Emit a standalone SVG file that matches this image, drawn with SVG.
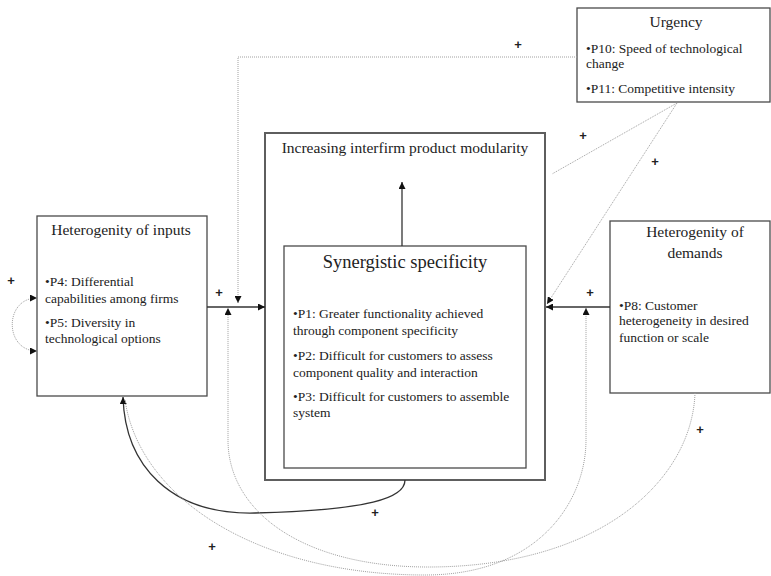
<svg xmlns="http://www.w3.org/2000/svg" width="771" height="576" viewBox="0 0 771 576">
  <defs>
    <style>
      .box { fill: #ffffff; stroke: #4a4a4a; stroke-width: 1.3; }
      .outer { fill: #ffffff; stroke: #5e5e5e; stroke-width: 2; }
      .title { font-family: "Liberation Serif", "Times New Roman", serif; font-size: 15.5px; fill: #222; text-anchor: middle; }
      .big { font-family: "Liberation Serif", "Times New Roman", serif; font-size: 18.5px; fill: #222; text-anchor: middle; }
      .body { font-family: "Liberation Serif", "Times New Roman", serif; font-size: 13.5px; fill: #222; }
      .plus { font-family: "Liberation Sans", Arial, sans-serif; font-size: 13px; font-weight: bold; fill: #222; text-anchor: middle; }
      .solid { fill: none; stroke: #333; stroke-width: 1.3; }
      .dot { fill: none; stroke: #a0a0a0; stroke-width: 1; stroke-dasharray: 1 1; }
    </style>
    <marker id="head" viewBox="0 0 10 10" refX="10" refY="5" markerWidth="7" markerHeight="7" markerUnits="userSpaceOnUse" orient="auto-start-reverse">
      <path d="M0,0 L10,5 L0,10 Z" fill="#111"/>
    </marker>
  </defs>

  <!-- nodes -->
  <g id="modularity">
    <rect class="outer" x="265" y="133" width="280" height="347"/>
    <text class="title" x="405" y="153">Increasing interfirm product modularity</text>
  </g>

  <g id="synergistic">
    <rect class="box" x="284" y="246" width="242" height="222"/>
    <text class="big" x="405" y="268">Synergistic specificity</text>
    <text class="body" x="293" y="318">•P1: Greater functionality achieved</text>
    <text class="body" x="293" y="335">through component specificity</text>
    <text class="body" x="293" y="360">•P2: Difficult for customers to assess</text>
    <text class="body" x="293" y="377">component quality and interaction</text>
    <text class="body" x="293" y="401">•P3: Difficult for customers to assemble</text>
    <text class="body" x="293" y="417">system</text>
  </g>

  <g id="inputs">
    <rect class="box" x="37" y="216" width="170" height="180"/>
    <text class="title" x="121" y="235">Heterogenity of inputs</text>
    <text class="body" x="45" y="286">•P4: Differential</text>
    <text class="body" x="45" y="303">capabilities among firms</text>
    <text class="body" x="45" y="327">•P5: Diversity in</text>
    <text class="body" x="45" y="343">technological options</text>
  </g>

  <g id="urgency">
    <rect class="box" x="577" y="8" width="193" height="94"/>
    <text class="title" x="676" y="27">Urgency</text>
    <text class="body" x="586" y="53">•P10: Speed of technological</text>
    <text class="body" x="586" y="68">change</text>
    <text class="body" x="586" y="93">•P11: Competitive intensity</text>
  </g>

  <g id="demands">
    <rect class="box" x="610" y="221" width="160" height="172"/>
    <text class="title" x="695" y="237">Heterogenity of</text>
    <text class="title" x="695" y="258">demands</text>
    <text class="body" x="619" y="310">•P8: Customer</text>
    <text class="body" x="619" y="325">heterogeneity in desired</text>
    <text class="body" x="619" y="342">function or scale</text>
  </g>

  <!-- connectors -->
  <g id="connectors">
    <path class="solid" d="M402,246 L402,182" marker-end="url(#head)"/>
    <path class="solid" d="M207,307 L265,307" marker-end="url(#head)"/>
    <path class="solid" d="M610,307 L546,307" marker-end="url(#head)"/>
    <path class="solid" d="M405,480 C405,498 370,510 255,513 C170,515 125,465 123,397" marker-end="url(#head)"/>

    <path class="dot" d="M37,298 C4,298 4,351 37,351" marker-start="url(#head)" marker-end="url(#head)"/>
    <path class="dot" d="M577,57 L238,57 L238,303" marker-end="url(#head)"/>
    <path class="dot" d="M677,103 L552,174"/>
    <path class="dot" d="M677,103 L547,304" marker-end="url(#head)"/>
    <path class="dot" d="M695,393 C692,480 600,568 425,567 C300,566 228,510 228,440 L228,308" marker-end="url(#head)"/>
    <path class="dot" d="M125,400 C140,500 260,575 425,575 C540,575 586,500 586,440 L586,308" marker-end="url(#head)"/>

    <text class="plus" x="11" y="285">+</text>
    <text class="plus" x="219" y="297">+</text>
    <text class="plus" x="518" y="49">+</text>
    <text class="plus" x="583" y="140">+</text>
    <text class="plus" x="655" y="166">+</text>
    <text class="plus" x="590" y="297">+</text>
    <text class="plus" x="700" y="434">+</text>
    <text class="plus" x="375" y="517">+</text>
    <text class="plus" x="212" y="551">+</text>
  </g>
</svg>
